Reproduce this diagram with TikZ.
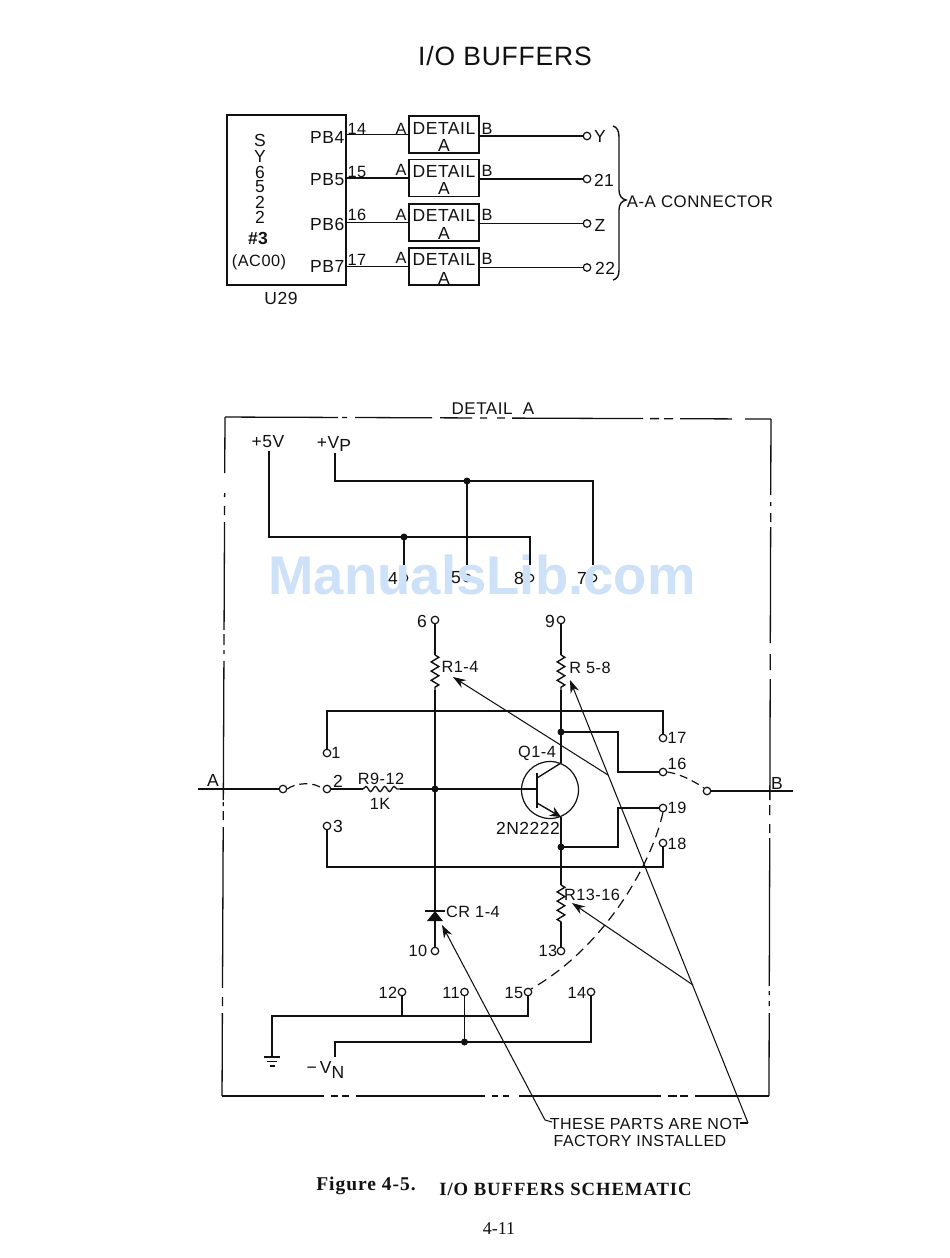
\documentclass[tikz,border=0pt]{standalone}
\usepackage{fontspec}
\setmainfont{Liberation Sans}
\newfontfamily\lettfam[LetterSpace=3]{Liberation Sans}
\newfontfamily\capfam[LetterSpace=5]{Liberation Serif}
\newfontfamily\pagefam{Liberation Serif}
\newfontfamily\wmfam{Liberation Sans}
\usetikzlibrary{arrows.meta,decorations.pathmorphing}
\definecolor{ink}{HTML}{111111}
\definecolor{wm}{HTML}{CDE1F9}
\tikzset{
  lbl/.style={font=\lettfam\fontsize{16.3}{16.3}\selectfont,inner sep=0pt,text=ink},
  big lbl/.style={font=\lettfam\fontsize{17.5}{17.5}\selectfont,inner sep=0pt,text=ink},
  wire/.style={draw=ink,line width=1.4pt,line join=miter},
  pinc/.style={draw=ink,fill=white,circle,inner sep=0pt,minimum size=7.5pt,line width=1.2pt},
  jdot/.style={fill=ink,circle,inner sep=0pt,minimum size=7pt},
  boxn/.style={draw=ink,line width=1.4pt,inner sep=0pt},
  zig/.style={draw=ink,line width=1.4pt,decorate,decoration={zigzag,segment length=9.2pt,amplitude=3.8pt}},
  wavy/.style={draw=ink,line width=1.3pt,decorate,decoration={snake,segment length=9.4pt,amplitude=2.6pt}},
  dashsw/.style={draw=ink,line width=1.2pt,dash pattern=on 8pt off 5pt},
  dashlong/.style={draw=ink,line width=1.2pt,dash pattern=on 10pt off 6pt},
  lead/.style={draw=ink,line width=1.05pt},
  leadar/.style={lead,-{Stealth[length=13pt,width=9pt]}},
  frameline/.style={draw=ink,line width=1.3pt},
}
\newcommand{\lab}[4]{\node[lbl] (#1) at (#2,#3) {#4};}
\newcommand{\blab}[4]{\node[big lbl] (#1) at (#2,#3) {#4};}
\begin{document}
\begin{tikzpicture}[x=1pt,y=-1pt]
\useasboundingbox (0,0) rectangle (950,1258);
\fill[white] (0,0) rectangle (950,1258);

% ---------- title
\node[inner sep=0pt,text=ink,font=\lettfam\fontsize{26.5}{26.5}\selectfont] (title) at (505,56) {I/O BUFFERS};

% ---------- upper block
\node[boxn,minimum width=119pt,minimum height=170pt] (u29) at (286.5,200) {};
\blab{s1}{260}{140}{S}\blab{s2}{260}{156}{Y}\blab{s3}{260}{172}{6}
\blab{s4}{260}{187}{5}\blab{s5}{260}{202}{2}\blab{s6}{260}{217}{2}
\node[big lbl,font=\lettfam\bfseries\fontsize{17.5}{17.5}\selectfont] (s7) at (258,238) {\#3};
\lab{s8}{259}{262}{(AC00)}
\blab{u29t}{281}{298}{U29}
\node[big lbl,anchor=east] (pb4) at (344.5,137) {PB4};
\node[big lbl,anchor=east] (pb5) at (344.5,180) {PB5};
\node[big lbl,anchor=east] (pb6) at (344.5,224) {PB6};
\node[big lbl,anchor=east] (pb7) at (344.5,266) {PB7};

\node[boxn,minimum width=70pt,minimum height=37pt] (d1) at (444,134.5) {};
\node[boxn,minimum width=70pt,minimum height=37pt] (d2) at (444,178) {};
\node[boxn,minimum width=70pt,minimum height=37pt] (d3) at (444,222.5) {};
\node[boxn,minimum width=70pt,minimum height=37pt] (d4) at (444,266.5) {};
\blab{d1a}{444}{128}{DETAIL}\blab{d1b}{444}{145}{A}
\blab{d2a}{444}{171}{DETAIL}\blab{d2b}{444}{188}{A}
\blab{d3a}{444}{215}{DETAIL}\blab{d3b}{444}{233}{A}
\blab{d4a}{444}{259}{DETAIL}\blab{d4b}{444}{278}{A}
\lab{n14}{357}{129}{14}\lab{n15}{357}{172}{15}\lab{n16}{357}{215}{16}\lab{n17}{357}{260}{17}
\lab{a1}{401}{129}{A}\lab{a2}{401}{170}{A}\lab{a3}{401}{215}{A}\lab{a4}{401}{258}{A}
\lab{b1}{487}{129}{B}\lab{b2}{487}{171}{B}\lab{b3}{487}{215}{B}\lab{b4}{487}{259}{B}

\node[pinc] (py) at (587,136) {};
\node[pinc] (p21) at (587,179) {};
\node[pinc] (pz) at (587,223.5) {};
\node[pinc] (p22) at (587,267.5) {};
\blab{ty}{600}{136}{Y}\blab{t21}{604}{180}{21}\blab{tz}{600}{225}{Z}\blab{t22}{605}{268}{22}

\foreach \d/\p in {d1/py,d2/p21,d3/pz,d4/p22}{
  \draw[wire] (u29.east |- \d.west) -- (\d.west);
  \draw[wire] (\d.east |- \p) -- (\p);
}
\draw[wire] (613,126) .. controls (617,127) and (619,131) .. (619,137) -- (619,190)
  .. controls (619,196) and (622,199) .. (626,200)
  .. controls (622,201) and (619,204) .. (619,210) -- (619,270)
  .. controls (619,276) and (617,279) .. (613,280);
\node[big lbl,font=\lettfam\fontsize{16.8}{16.8}\selectfont] (conn) at (700,202) {A-A CONNECTOR};

% ---------- DETAIL A frame (phantom line)
\foreach \a/\b in {225/338,342/347,355/432,440/472,480/487,497/505,512/643,650/659,664/673,680/732,745/771}
  \draw[frameline] (\a,417+\a/270-0.8) -- (\b,417+\b/270-0.8);
\foreach \a/\b in {222/324,331/338,342/349,356/485,492/498,503/509,519/661,668/677,680/688,695/769}
  \draw[frameline] (\a,1096) -- (\b,1096);
\foreach \a/\b in {417/473,493/497,506/515,522/630,634/645,650/654,661/800,802/806,811/820,827/988,997/1006,1013/1096}
  \draw[frameline] (225-\a/230+1.8,\a) -- (225-\b/230+1.8,\b);
\foreach \a/\b in {419/495,502/506,513/522,527/643,654/670,679/800,805/815,824/833,838/986,991/995,1001/1006,1013/1096}
  \draw[frameline] (771-\a/340+1.2,\a) -- (771-\b/340+1.2,\b);
\node[inner sep=1pt,text=ink,font=\lettfam\fontsize{17}{17}\selectfont] (dtit) at (493,409) {DETAIL\ \ A};

% ---------- supply pins, partly behind the watermark
\node[pinc] (p4) at (404,578) {};
\node[pinc] (p5) at (467,578) {};
\node[pinc] (p8) at (530,578) {};
\node[pinc] (p7) at (593,578) {};

% ---------- watermark
\node[inner sep=0pt,text=wm,font=\wmfam\bfseries\fontsize{54.5}{54.5}\selectfont] (wmark) at (482,575) {ManualsLib.com};

\blab{t4}{393}{578}{4}\blab{t5}{456}{578}{5}\blab{t8}{519}{578}{8}\blab{t7}{582}{578}{7}

% ---------- supplies
\blab{t5v}{268}{442}{+5V}
\node[big lbl] (tvp) at (334,444) {+V\raisebox{-3.5pt}{P}};
\node[jdot] (j1) at (404,537) {};
\node[jdot] (j2) at (467,481) {};
\coordinate (c5top) at (269,451);
\coordinate (cvtop) at (335,453);
\coordinate (e4) at (404,565);
\coordinate (e5) at (467,565);
\coordinate (e8) at (530,565);
\coordinate (e7) at (593,565);
\draw[wire] (c5top) |- (j1.center) -| (e8);
\draw[wire] (cvtop) |- (j2.center) -| (e7);
\draw[wire] (j1.center) -- (e4);
\draw[wire] (j2.center) -- (e5);

% ---------- pins
\node[pinc] (p6) at (435,620) {};
\node[pinc] (p9) at (561,620) {};
\node[pinc] (p1) at (327,753) {};
\node[pinc] (pa) at (283,789) {};
\node[pinc] (p2) at (327,789) {};
\node[pinc] (p3) at (327,826) {};
\node[pinc] (p17) at (663,738) {};
\node[pinc] (p16) at (663,772) {};
\node[pinc] (pb) at (707,791) {};
\node[pinc] (p19) at (663,808) {};
\node[pinc] (p18) at (663,843) {};
\node[pinc] (p10) at (435,951) {};
\node[pinc] (p13) at (561,951) {};
\node[pinc] (p12) at (402,992) {};
\node[pinc] (p11) at (464.5,992) {};
\node[pinc] (p15) at (528,992) {};
\node[pinc] (p14) at (591,992) {};
\blab{t6}{422}{621}{6}\blab{t9}{550}{621}{9}
\lab{t1}{336}{753}{1}\blab{t2}{338}{781}{2}\blab{t3}{338}{826}{3}
\lab{t17}{677}{738}{17}\lab{t16}{677}{764}{16}\lab{t19}{677}{808}{19}\lab{t18}{677}{844}{18}
\lab{t10}{418}{951}{10}\lab{t13}{548}{951}{13}
\lab{t12}{388}{993}{12}\lab{t11}{451}{993}{11}\lab{t15}{514}{993}{15}\lab{t14}{577}{993}{14}
\blab{ta}{213}{780}{A}\blab{tb}{777}{783}{B}
\lab{tr1}{460}{667}{R1-4}\lab{tr2}{590}{668}{R 5-8}
\lab{tr3}{592}{895}{R13-16}\lab{tr4}{381}{779}{R9-12}\lab{tr4v}{380}{804}{1K}
\lab{tq}{537}{753}{Q1-4}\blab{tq2}{528}{828}{2N2222}
\node[lbl,anchor=west] (tcr) at (446,912) {CR 1-4};

% ---------- junctions and anchor points
\node[jdot] (j3) at (435,789) {};
\node[jdot] (j4) at (561,732) {};
\node[jdot] (j5) at (561,847) {};
\node[jdot] (j6) at (464.5,1042) {};
\coordinate (r1a) at (435,655); \coordinate (r1b) at (435,690);
\coordinate (r2a) at (561,655); \coordinate (r2b) at (561,690);
\coordinate (r3a) at (561,885); \coordinate (r3b) at (561,922);
\coordinate (r4a) at (363,789); \coordinate (r4b) at (400,789);
\coordinate (ca) at (198,789);  \coordinate (cb) at (793,791);
\coordinate (qb) at (537,789);  \coordinate (qc) at (561,763); \coordinate (qe) at (561,817);
\coordinate (dbar) at (435,911); \coordinate (dbase) at (435,921);
\coordinate (ctop) at (500,711); \coordinate (cbot) at (500,867);
\coordinate (k16) at (618,772); \coordinate (k19) at (618,808);
\coordinate (cg) at (272,1057); \coordinate (cbus) at (400,1016);
\coordinate (cvn) at (335,1057);

% ---------- wires
\draw[wire] (p6) -- (r1a);
\draw[zig] (r1a) -- (r1b);
\draw[wire] (r1b) -- (j3.center) -- (dbar);
\draw[wire] (dbase) -- (p10);
\draw[wire] (p9) -- (r2a);
\draw[zig] (r2a) -- (r2b);
\draw[wire] (r2b) -- (qc);
\draw[wire] (qe) -- (r3a);
\draw[zig] (r3a) -- (r3b);
\draw[wire] (r3b) -- (p13);
\draw[wire] (p1) |- (ctop) -| (p17);
\draw[wire] (p3) |- (cbot) -| (p18);
\draw[wire] (ca) -- (pa);
\draw[wire] (pb) -- (cb);
\draw[wire] (p2) -- (r4a);
\draw[wavy] (r4a) -- (r4b);
\draw[wire] (r4b) -- (j3.center) -- (qb);
\draw[wire] (j4.center) -| (k16) -- (p16);
\draw[wire] (j5.center) -| (k19) -- (p19);
\draw[wire] (cg) |- (cbus) -| (p15);
\draw[wire] (p12) -- (p12 |- cbus);
\draw[wire] (p11) -- (j6.center);
\draw[wire] (cvn) |- (j6.center) -| (p14);

% switches
\draw[dashsw] (pa.east) .. controls (295,783) and (314,781) .. (p2.west);
\draw[dashsw] (p16.east) .. controls (680,774) and (692,780) .. (pb.north west);
\draw[dashlong] (p19.south) .. controls (650,870) and (600,950) .. (p15.north east);

% transistor
\node[draw=ink,circle,line width=1.2pt,inner sep=0pt,minimum size=57pt] (q) at (550,790) {};
\draw[wire] (537,773) -- (537,808);
\draw[wire] (537,778) -- (qc);
\draw[wire,-{Stealth[length=11pt,width=10pt]}] (537,803) -- (qe);

% diode
\draw[wire] (425,911) -- (445,911);
\fill[ink] (dbar) -- (443,921) -- (427,921) -- cycle;

% ground
\draw[wire] (264,1057) -- (280,1057);
\draw[wire] (267,1061.5) -- (277,1061.5);
\draw[wire,line width=1.8pt] (269.5,1066) -- (274.5,1066);
\node[big lbl] (tvn) at (332,1070) {\makebox[0pt][r]{−\,}V\raisebox{-5pt}{N}};

% ---------- leaders
\coordinate (hr) at (748,1123); \coordinate (hr2) at (740,1123);
\coordinate (hl) at (545,1120); \coordinate (hl2) at (552,1122);
\coordinate (b1s) at (608,775); \coordinate (b2s) at (693,985);
\coordinate (tip1) at (453,677); \coordinate (tip2) at (570,680);
\coordinate (tip3) at (572,903); \coordinate (tip4) at (442,925);
\draw[lead] (hr2) -- (hr);
\draw[leadar] (hr) -- (tip2);
\draw[leadar] (b1s) -- (tip1);
\draw[leadar] (b2s) -- (tip3);
\draw[lead] (hl2) -- (hl);
\draw[leadar] (hl) -- (tip4);
\node[lbl,font=\lettfam\fontsize{16}{16}\selectfont] (note1) at (646,1124) {THESE PARTS ARE NOT};
\node[lbl,font=\lettfam\fontsize{16}{16}\selectfont] (note2) at (640,1141) {FACTORY INSTALLED};

% ---------- caption
\node[inner sep=0pt,text=ink,font=\capfam\bfseries\fontsize{19.5}{19.5}\selectfont] (cap1) at (366,1186) {Figure 4-5.};
\node[inner sep=0pt,text=ink,font=\capfam\bfseries\fontsize{18.7}{18.7}\selectfont] (cap2) at (565.5,1189) {I/O BUFFERS SCHEMATIC};
\node[inner sep=0pt,text=ink,font=\pagefam\fontsize{18}{18}\selectfont] (pg) at (499,1229) {4-11};
\end{tikzpicture}
\end{document}
